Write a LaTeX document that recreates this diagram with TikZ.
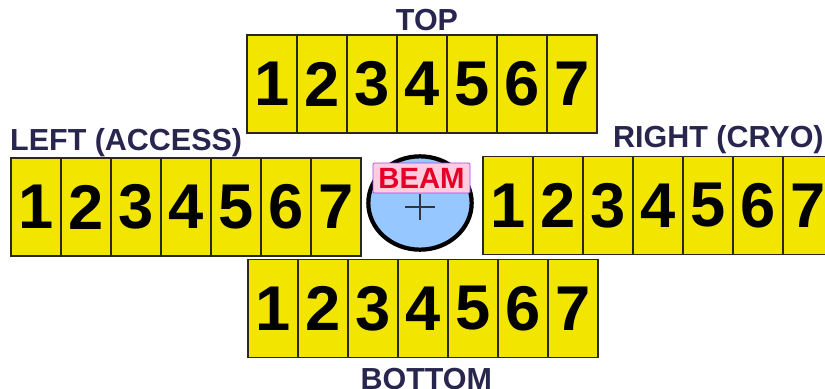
\documentclass[tikz,border=0pt]{standalone}
\usepackage{fontspec}
\setmainfont{Liberation Sans}
\usetikzlibrary{positioning, shapes.geometric}
\definecolor{cellyellow}{RGB}{242, 230, 0}
\definecolor{celledge}{RGB}{40, 40, 30}
\definecolor{labelnavy}{RGB}{40, 38, 78}
\definecolor{beamblue}{RGB}{150, 200, 255}
\definecolor{beampink}{RGB}{255, 205, 222}
\definecolor{beampurple}{RGB}{160, 70, 230}
\definecolor{beamred}{RGB}{230, 0, 40}
\definecolor{crossgray}{RGB}{50, 50, 65}
\tikzset{
  cell/.style={rectangle, draw=celledge, fill=cellyellow, line width=1.5pt,
               minimum width=1.5cm, minimum height=2.94cm, inner sep=0pt,
               font=\bfseries\fontsize{54}{54}\selectfont},
  sidelabel/.style={font=\bfseries\fontsize{26}{26}\selectfont, text=labelnavy,
               inner sep=0pt},
  beamtag/.style={rectangle, draw=beampurple, fill=beampink, line width=0.6pt,
               rounded corners=1pt, minimum width=2.91cm, minimum height=0.9cm,
               inner sep=0pt, font=\bfseries\fontsize{25}{25}\selectfont,
               text=beamred},
}

\begin{document}
\begin{tikzpicture}[x=0.03cm, y=-0.03cm]
  \useasboundingbox (0,0) rectangle (825,388);

  % four strips of seven cells
  \foreach \i in {1,...,7} {
    \node[cell] (top\i)    at ({272+50*(\i-1)}, 84)    {\i};
    \node[cell] (left\i)   at ({36+50*(\i-1)}, 207)    {\i};
    \node[cell] (right\i)  at ({508+50*(\i-1)}, 205.5) {\i};
    \node[cell] (bottom\i) at ({273+50*(\i-1)}, 308.5) {\i};
  }

  % strip labels
  \node[sidelabel, above=0.12cm of top4, anchor=base, xshift=0.15cm] (toplbl) {TOP};
  \node[sidelabel, below=0.93cm of bottom4, anchor=base, xshift=0.1cm] (bottomlbl) {BOTTOM};
  \node[sidelabel, anchor=base west] (leftlbl) at (10, 150) {LEFT (ACCESS)};
  \node[sidelabel, anchor=base west] (rightlbl) at (613, 147) {RIGHT (CRYO)};

  % beam pipe
  \node[ellipse, draw=black, fill=beamblue, line width=3.6pt,
        minimum width=3.1cm, minimum height=2.8cm, inner sep=0pt] (beam) at (420, 203) {};
  \node[beamtag] (beamtag) at (421.5, 178) {BEAM};
  \draw[line width=1.7pt, color=crossgray] (405, 207) -- (435, 207)
                                          (420, 194) -- (420, 220);
\end{tikzpicture}
\end{document}
